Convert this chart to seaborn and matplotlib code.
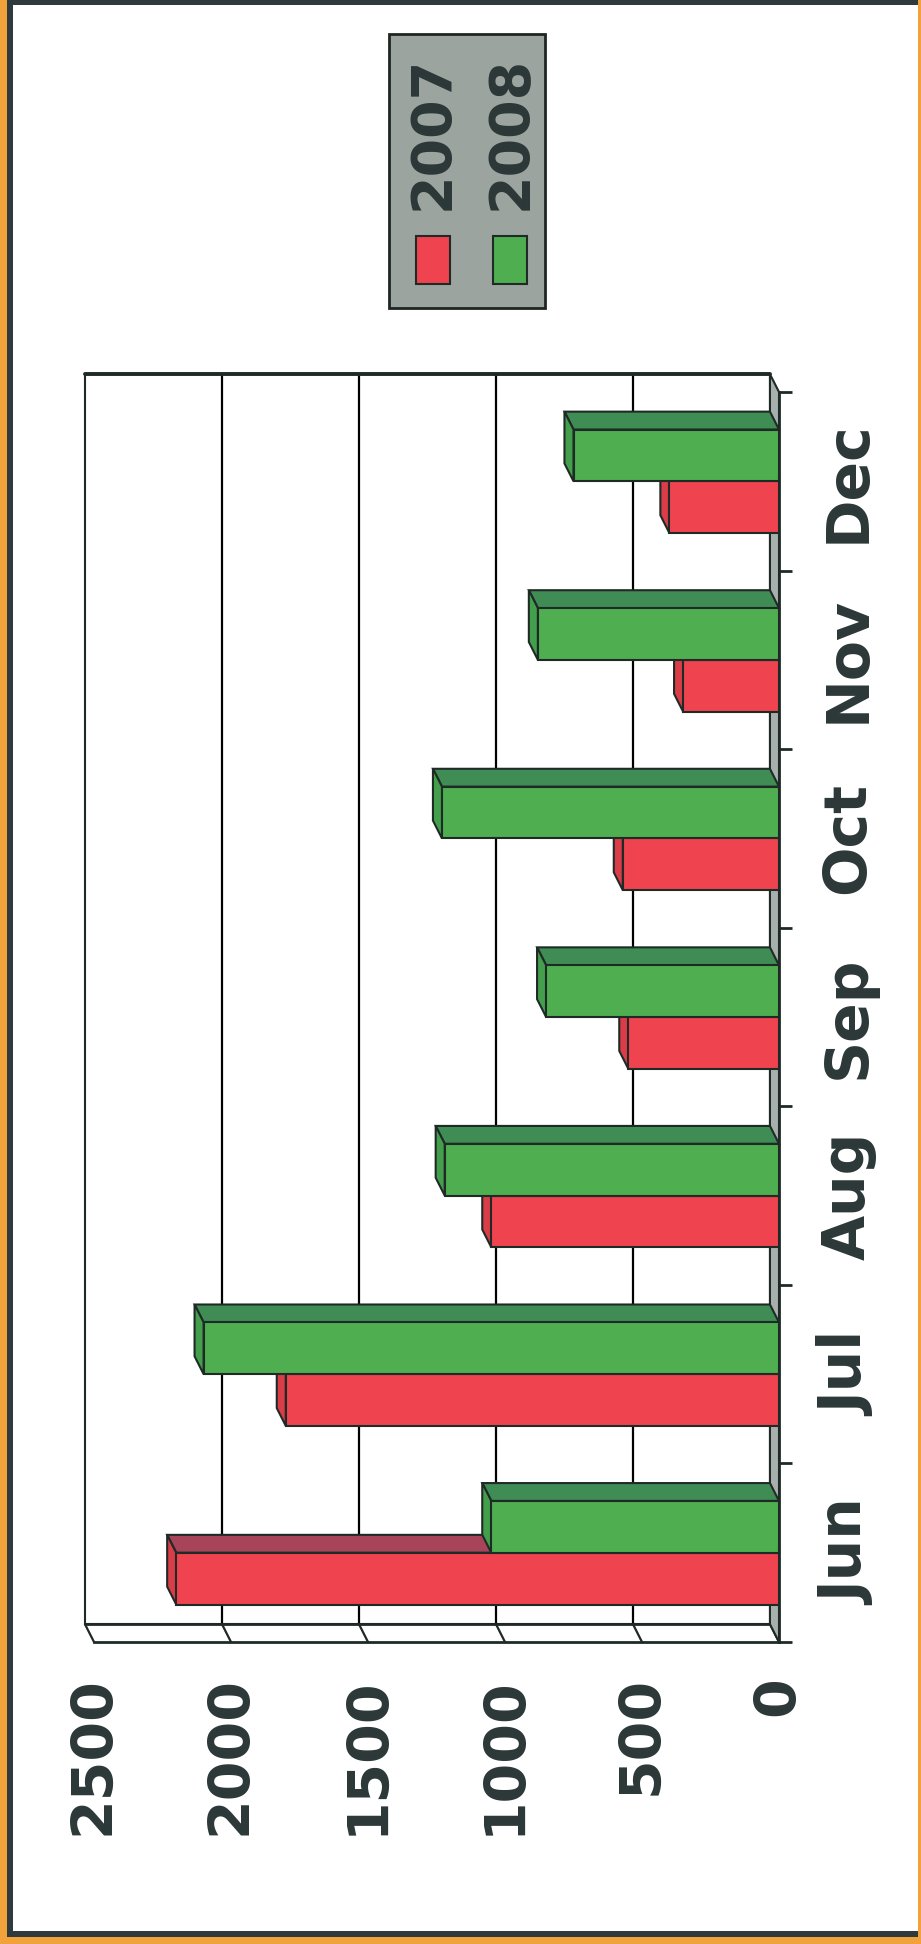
import matplotlib
matplotlib.use("Agg")
import matplotlib.pyplot as plt
import pandas as pd
import seaborn as sns
from matplotlib.colors import same_color
from matplotlib.patches import Polygon, Rectangle

# monthly values
months = ["Jun", "Jul", "Aug", "Sep", "Oct", "Nov", "Dec"]
years = ["2007", "2008"]
sales_2007 = [2200, 1800, 1050, 550, 570, 350, 400]
sales_2008 = [1050, 2100, 1220, 850, 1230, 880, 750]
value_ticks = [0, 500, 1000, 1500, 2000, 2500]

RED, GREEN = "#EF4450", "#4EAE50"
RED_TOP, GREEN_TOP = "#A8445A", "#3F8D55"
RED_END, GREEN_END = "#DA3C48", "#449F4C"
EDGE = "#1F2A26"
TEXT = "#2C3838"
FLOOR = "#A8B0AE"

# depth of the fake 3d box, in data units (value, category)
DX, DY = 33, 0.1
VMAX = value_ticks[-1]
NCAT = len(months)

df = pd.DataFrame({
    "month": months * 2,
    "year": [years[0]] * NCAT + [years[1]] * NCAT,
    "value": sales_2007 + sales_2008,
})

sns.set_style("white")
plt.rcParams["font.family"] = ["DejaVu Sans"]
plt.rcParams["font.weight"] = "bold"

fig = plt.figure(figsize=(9.21, 19.44), dpi=100)
ax = fig.add_axes([94 / 921, 1 - 1642 / 1944, 685 / 921, 1250 / 1944])
ax.patch.set_alpha(0)

sns.barplot(data=df, x="value", y="month", hue="year", order=months,
            hue_order=years, orient="h", width=0.58, palette=[RED, GREEN],
            saturation=1, edgecolor=EDGE, linewidth=1.5, errorbar=None,
            legend=False, ax=ax)
bar_patches = [p for p in ax.patches if isinstance(p, Rectangle)]

ax.set_xlim(VMAX, 0)
ax.set_ylim(-0.5, NCAT - 0.5)
ax.set_xlabel("")
ax.set_ylabel("")

lo, hi = -0.5, NCAT - 0.5

# back wall
ax.add_patch(Polygon([(DX, lo + DY), (VMAX + DX, lo + DY), (VMAX + DX, hi + DY), (DX, hi + DY)],
                     closed=True, facecolor="white", edgecolor=EDGE, lw=1.5,
                     zorder=0.5, clip_on=False))
ax.plot([DX, VMAX + DX], [hi + DY, hi + DY], color=EDGE, lw=2.8, zorder=0.7, clip_on=False)
for v in value_ticks[1:-1]:
    ax.plot([v + DX, v + DX], [lo + DY, hi + DY], color="black", lw=1.6, zorder=0.6, clip_on=False)

# side wall along the value axis
for v in value_ticks:
    ax.plot([v, v + DX], [lo, lo + DY], color=EDGE, lw=1.6, zorder=0.6, clip_on=False)
ax.plot([DX, VMAX + DX], [lo + DY, lo + DY], color=EDGE, lw=2, zorder=0.7, clip_on=False)

# grey floor strip at value 0
ax.add_patch(Polygon([(0, lo), (DX, lo + DY), (DX, hi + DY), (0, hi)], closed=True,
                     facecolor=FLOOR, edgecolor=EDGE, lw=1.5, zorder=0.8, clip_on=False))

# depth faces for every bar, lower bars first so upper ones overlap them
bars = sorted(bar_patches, key=lambda p: p.get_y())
for i, bar in enumerate(bars):
    x0, w = bar.get_x(), bar.get_width()
    y0, h = bar.get_y(), bar.get_height()
    end = x0 + w
    red = same_color(bar.get_facecolor(), RED)
    top_c = RED_TOP if red else GREEN_TOP
    end_c = RED_END if red else GREEN_END
    z = 3 + 2 * i
    ax.add_patch(Polygon([(x0, y0 + h), (end, y0 + h), (end + DX, y0 + h + DY), (x0 + DX, y0 + h + DY)],
                         closed=True, facecolor=top_c, edgecolor=EDGE, lw=1.5, zorder=z, clip_on=False))
    ax.add_patch(Polygon([(end, y0), (end, y0 + h), (end + DX, y0 + h + DY), (end + DX, y0 + DY)],
                         closed=True, facecolor=end_c, edgecolor=EDGE, lw=1.5, zorder=z, clip_on=False))
    bar.set_zorder(z + 1)

# spines: only the front value axis and the front edge at 0
for side in ["left", "top"]:
    ax.spines[side].set_visible(False)
for side in ["bottom", "right"]:
    ax.spines[side].set_color(EDGE)
    ax.spines[side].set_linewidth(2)
    ax.spines[side].set_zorder(40)

ax.set_xticks(value_ticks, labels=[str(v) for v in value_ticks])
ax.tick_params(axis="x", length=13, width=2, color=EDGE, pad=11.5,
               labelsize=41, labelrotation=90, labelcolor=TEXT)

ax.yaxis.tick_right()
ax.set_yticks([i - 0.5 for i in range(NCAT + 1)])
ax.set_yticks(range(NCAT), labels=months, minor=True)
ax.tick_params(axis="y", which="major", length=9, width=2, color=EDGE,
               labelright=False, labelleft=False, left=False, right=True)
ax.tick_params(axis="y", which="minor", length=0, pad=29, labelsize=42,
               labelrotation=90, labelcolor=TEXT, labelright=True,
               labelleft=False, left=False, right=True)
for t in ax.get_yticklabels(minor=True):
    t.set_va("center")

# legend box drawn by hand, text rotated like the chart
def fbox(x, y, w, h, **kw):
    fig.patches.append(Rectangle((x / 921, 1 - (y + h) / 1944), w / 921, h / 1944,
                                 transform=fig.transFigure, **kw))

fbox(389, 34, 156, 274, facecolor="#9CA4A0", edgecolor="#1E2622", lw=2)
fbox(416, 236, 34, 48, facecolor=RED, edgecolor=EDGE, lw=1.5)
fbox(493, 236, 34, 48, facecolor=GREEN, edgecolor=EDGE, lw=1.5)
for label, xc in zip(years, [433, 511]):
    fig.text(xc / 921, 1 - 133 / 1944, label, rotation=90, ha="center", va="center",
             fontsize=40, fontweight="bold", color=TEXT)

# page frame
fbox(0, 0, 7, 1944, facecolor="#F2A23A", edgecolor="none")
fbox(7, 0, 6, 1931, facecolor="#2E3A3E", edgecolor="none")
fbox(7, 0, 914, 5, facecolor="#2E3A3E", edgecolor="none")
fbox(7, 1931, 914, 6, facecolor="#2E3A3E", edgecolor="none")
fbox(0, 1937, 921, 7, facecolor="#F2A23A", edgecolor="none")
fbox(918, 0, 3, 1944, facecolor="#F2A23A", edgecolor="none")

fig.savefig("out.png", dpi=100)
